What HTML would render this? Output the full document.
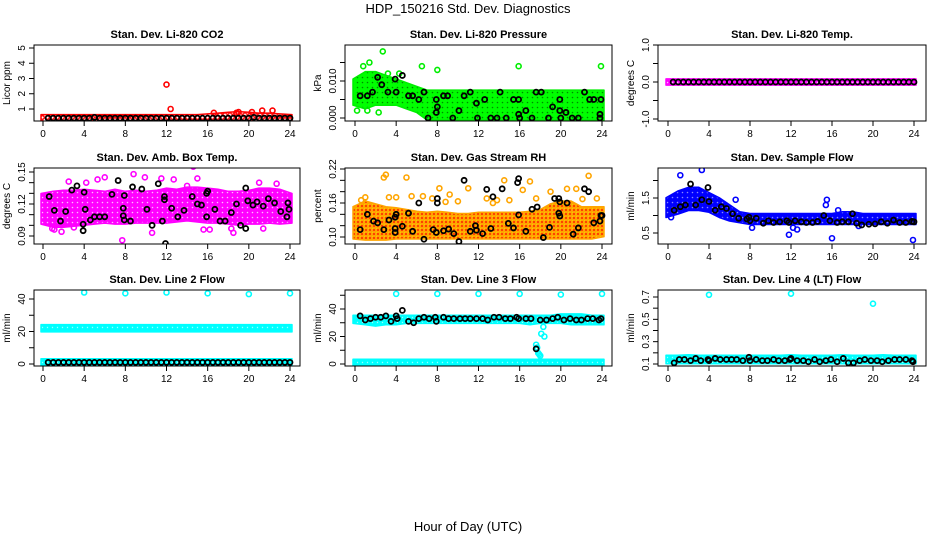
<!DOCTYPE html>
<html><head><meta charset="utf-8"><style>
body{margin:0;background:#fff;}
svg{display:block;font-family:"Liberation Sans",sans-serif;}
</style></head><body>
<svg id="c" width="936" height="540" viewBox="0 0 936 540">
<defs>
<pattern id="p-red" width="5" height="5" patternUnits="userSpaceOnUse"><rect width="5" height="5" fill="#fff"/><circle cx="2.5" cy="2.5" r="1.8" fill="none" stroke="#ff0000" stroke-width="1.4"/></pattern>
<pattern id="p-green" width="5" height="5" patternUnits="userSpaceOnUse"><rect width="5" height="5" fill="#00ff00"/><circle cx="2.5" cy="2.5" r="0.8" fill="#008800"/></pattern>
<pattern id="p-mag" width="5" height="5" patternUnits="userSpaceOnUse"><rect width="5" height="5" fill="#ff00ff"/><circle cx="2.5" cy="2.5" r="0.8" fill="#ffbbff"/></pattern>
<pattern id="p-orange" width="4" height="4" patternUnits="userSpaceOnUse"><rect width="4" height="4" fill="#ffa500"/><circle cx="2" cy="2" r="1" fill="#ff2200"/><circle cx="0" cy="0" r="0.7" fill="#ffff00"/></pattern>
<pattern id="p-blue" width="5" height="5" patternUnits="userSpaceOnUse"><rect width="5" height="5" fill="#0000ff"/><circle cx="2.5" cy="2.5" r="0.8" fill="#8888ff"/></pattern>
<pattern id="p-cyan" width="5" height="5" patternUnits="userSpaceOnUse"><rect width="5" height="5" fill="#00ffff"/><circle cx="2.5" cy="2.5" r="0.7" fill="#99ffff"/></pattern>
</defs>
<text x="468" y="13" text-anchor="middle" font-size="13">HDP_150216  Std. Dev. Diagnostics</text>
<text x="468" y="531" text-anchor="middle" font-size="13">Hour of Day (UTC)</text>
</svg>
<script>
// ---- data (hours) ----
const hours = [0,1,2,3,4,5,6,7,8,9,10,11,12,13,14,15,16,17,18,19,20,21,22,23,24];
// P1 CO2
const co2Low  = [0.3,0.3,0.3,0.3,0.3,0.3,0.3,0.3,0.3,0.3,0.3,0.3,0.3,0.3,0.3,0.3,0.3,0.3,0.3,0.3,0.3,0.3,0.3,0.3,0.3];
const co2High = [0.5,0.5,0.5,0.5,0.5,0.5,0.5,0.5,0.5,0.5,0.5,0.5,0.5,0.5,0.5,0.5,0.55,0.6,0.65,0.7,0.65,0.6,0.6,0.55,0.5];
const co2OutX = [12.0,12.4,12.4,16.6,18.8,19.0,20.3,21.3,22.3];
const co2OutY = [2.6,5.45,1.0,0.75,0.75,0.8,0.8,0.9,0.9];
const co2BlkX = [0.5,1,1.5,2,2.5,3,3.5,4,4.5,5,5.5,6,6.5,7,7.5,8,8.5,9,9.5,10,10.5,11,11.5,12,12.5,13,13.5,14,14.5,15,15.5,16,16.5,17,17.5,18,18.5,19,19.5,20,20.5,21,21.5,22,22.5,23,23.5,24];
const co2BlkY = [0.4,0.4,0.4,0.4,0.4,0.4,0.4,0.4,0.4,0.45,0.4,0.4,0.4,0.4,0.4,0.4,0.4,0.4,0.4,0.4,0.4,0.4,0.4,0.4,0.4,0.4,0.4,0.4,0.4,0.4,0.4,0.4,0.4,0.4,0.4,0.4,0.4,0.4,0.4,0.4,0.45,0.4,0.4,0.4,0.4,0.4,0.4,0.4];
// P2 pressure
const prLow  = [0.004,0.003,0.004,0.004,0.004,0.003,0.002,0,0,0,0,0,0,0,0,0,0,0,0,0,0,0,0,0,0];
const prHigh = [0.010,0.012,0.012,0.011,0.010,0.009,0.008,0.007,0.007,0.007,0.007,0.007,0.007,0.007,0.007,0.007,0.007,0.007,0.007,0.007,0.007,0.007,0.007,0.007,0.007];
const prOutX = [0.2,0.8,1.4,2.7,1.2,2.3,6.5,8.0,15.9,23.9,3.2,4.3];
const prOutY = [0.002,0.014,0.015,0.018,0.002,0.0015,0.014,0.013,0.014,0.014,0.012,0.012];
const prBlkX = [0.5,1.2,1.7,2.2,2.6,3.2,3.9,4.0,4.6,5.2,5.6,6.2,6.7,7.1,7.9,7.9,8.0,8.6,9.0,9.5,10.1,10.6,11.2,11.8,11.9,12.6,13.2,13.8,14.1,14.7,15.4,15.9,15.9,16.0,16.6,17.2,17.6,18.1,18.8,19.2,19.9,19.9,20.0,20.5,21.1,21.7,22.3,22.8,23.2,23.8,23.9,23.8];
const prBlkY = [0.006,0.006,0.007,0.011,0.009,0.007,0.0105,0.007,0.0115,0.006,0.006,0.005,0.007,0,0.005,0.0015,0.003,0.006,0.006,0,0.002,0.006,0.007,0.004,0,0.005,0,0,0.007,0,0.005,0.001,0.005,0,0.002,0,0.007,0.007,0,0.003,0.005,0.002,0,0.0015,0,0,0.007,0.005,0.005,0.001,0.005,0];
// P3 Li-820 temp
const tpLow  = [-0.03,-0.03,-0.03,-0.03,-0.03,-0.03,-0.03,-0.03,-0.03,-0.03,-0.03,-0.03,-0.03,-0.03,-0.03,-0.03,-0.03,-0.03,-0.03,-0.03,-0.03,-0.03,-0.03,-0.03,-0.03];
const tpHigh = [0.03,0.03,0.03,0.03,0.03,0.03,0.03,0.03,0.03,0.03,0.03,0.03,0.03,0.03,0.03,0.03,0.03,0.03,0.03,0.03,0.03,0.03,0.03,0.03,0.03];
const tpBlkX = co2BlkX;
const tpBlkY = [0,0,0,0,0,0,0,0,0,0,0,0,0,0,0,0,0,0,0,0,0,0,0,0,0,0,0,0,0,0,0,0,0,0,0,0,0,0,0,0,0,0,0,0,0,0,0,0];
// P4 amb box temp
const abLow  = [0.103,0.100,0.100,0.101,0.102,0.103,0.104,0.103,0.103,0.104,0.104,0.104,0.104,0.105,0.106,0.105,0.104,0.104,0.103,0.102,0.103,0.103,0.104,0.103,0.104];
const abHigh = [0.128,0.130,0.131,0.131,0.132,0.131,0.130,0.132,0.130,0.131,0.130,0.131,0.133,0.132,0.134,0.134,0.133,0.132,0.130,0.130,0.131,0.133,0.133,0.132,0.128];
const abOutX = [0.9,1.8,2.5,4.2,5.3,6.0,7.7,8.8,9.9,10.6,11.5,12.7,14.6,15.0,15.6,16.2,18.5,21.0,21.4,22.7,1.1,3.0,14.0,18.3];
const abOutY = [0.097,0.094,0.141,0.140,0.143,0.145,0.086,0.148,0.145,0.093,0.144,0.143,0.155,0.144,0.096,0.096,0.093,0.140,0.097,0.139,0.096,0.098,0.137,0.097];
const abBlkX = [0.6,1.1,1.7,2.2,2.8,3.3,3.9,3.9,4.0,4.1,4.6,5.0,5.5,6.0,6.7,7.3,7.8,7.8,7.9,7.9,8.5,8.7,9.6,10.1,10.6,11.2,11.6,11.8,11.8,11.9,12.5,13.1,13.7,14.5,15.0,15.4,15.9,15.9,16.0,16.7,17.2,17.7,18.3,18.8,19.2,19.7,19.7,19.9,20.4,20.8,21.4,21.9,22.5,23.1,23.7,23.8,23.9];
const abBlkY = [0.127,0.114,0.104,0.113,0.133,0.137,0.101,0.095,0.131,0.115,0.105,0.108,0.108,0.108,0.129,0.142,0.109,0.116,0.105,0.128,0.104,0.136,0.134,0.115,0.100,0.139,0.104,0.124,0.127,0.083,0.116,0.108,0.114,0.127,0.120,0.119,0.108,0.130,0.132,0.115,0.104,0.104,0.112,0.120,0.100,0.135,0.097,0.123,0.119,0.122,0.118,0.125,0.121,0.113,0.108,0.121,0.115];
// P5 gas stream RH
const rhLow  = [0.100,0.098,0.098,0.098,0.100,0.100,0.100,0.100,0.100,0.100,0.100,0.100,0.100,0.100,0.100,0.100,0.100,0.100,0.100,0.100,0.100,0.100,0.100,0.100,0.104];
const rhHigh = [0.150,0.160,0.155,0.150,0.148,0.145,0.142,0.140,0.142,0.140,0.138,0.138,0.140,0.140,0.140,0.140,0.140,0.142,0.145,0.155,0.160,0.160,0.150,0.150,0.150];
const rhOutX = [0.6,1.0,2.8,3.0,4.0,5.0,5.5,6.6,7.5,8.2,9.2,10.0,11.0,12.8,13.8,14.5,15.0,16.3,17.0,17.6,19.0,20.6,21.5,22.1,22.7,23.5,3.3,8.8,13.4];
const rhOutY = [0.165,0.170,0.205,0.210,0.170,0.205,0.172,0.172,0.168,0.186,0.175,0.163,0.186,0.168,0.165,0.200,0.165,0.183,0.198,0.168,0.180,0.185,0.185,0.167,0.208,0.168,0.170,0.162,0.160];
const rhBlkX = [0.5,1.2,1.8,2.2,2.8,3.3,3.9,3.9,3.9,4.0,4.6,5.2,5.6,6.2,6.7,7.6,7.9,8.0,8.0,8.6,9.1,9.6,10.1,10.6,11.2,11.7,11.8,12.4,12.8,13.2,13.4,14.3,14.9,15.4,15.8,15.9,15.9,16.6,17.2,17.7,18.3,18.9,19.4,19.8,19.8,19.9,19.9,20.6,21.2,21.7,22.3,22.7,23.2,23.8,23.9,24.0];
const rhBlkY = [0.113,0.140,0.128,0.125,0.113,0.130,0.108,0.115,0.135,0.140,0.119,0.142,0.110,0.160,0.096,0.113,0.108,0.160,0.168,0.111,0.114,0.106,0.092,0.200,0.110,0.120,0.112,0.106,0.184,0.115,0.171,0.185,0.124,0.116,0.196,0.203,0.139,0.110,0.149,0.153,0.099,0.117,0.168,0.168,0.142,0.162,0.137,0.160,0.105,0.116,0.185,0.180,0.125,0.128,0.138,0.138];
// P6 sample flow
const sfLow  = [1.0,1.1,1.2,1.2,1.15,1.0,0.9,0.85,0.8,0.8,0.8,0.8,0.8,0.8,0.8,0.8,0.8,0.8,0.8,0.8,0.8,0.8,0.8,0.8,0.8];
const sfHigh = [1.45,1.65,1.75,1.75,1.6,1.45,1.25,1.05,1.0,1.0,1.0,1.0,1.0,1.0,1.0,1.0,1.0,1.05,1.05,1.0,1.0,1.0,1.0,1.0,1.0];
const sfOutX = [0.3,1.2,3.3,8.2,11.8,12.2,12.6,15.5,15.4,16.0,16.6,23.9,6.6,18.6];
const sfOutY = [0.95,2.15,2.3,0.65,0.45,0.65,0.6,1.45,1.3,0.35,1.15,0.3,1.45,0.7];
const sfBlkX = [0.6,1.2,1.7,2.2,2.7,3.3,3.9,4.0,4.6,5.2,5.7,6.3,6.9,7.7,7.9,8.0,8.6,9.3,9.8,10.3,10.9,11.6,11.8,12.4,13.0,13.5,14.1,14.6,15.2,15.8,16.5,17.0,17.6,18.0,18.4,18.9,19.6,20.2,20.8,21.4,22.0,22.6,23.2,23.8,24.0];
const sfBlkY = [1.15,1.25,1.3,1.9,1.3,1.45,1.8,1.4,1.15,1.25,1.2,1.05,0.92,0.9,0.95,0.85,0.92,0.78,0.85,0.8,0.82,0.85,0.8,0.85,0.82,0.8,0.8,0.83,1.0,0.85,0.8,0.82,0.82,1.05,0.78,0.73,0.75,0.76,0.82,0.78,0.87,0.8,0.8,0.83,0.82];
// P7 line 2 flow
const l2Low  = [21,21,21,21,21,21,21,21,21,21,21,21,21,21,21,21,21,21,21,21,21,21,21,21,21];
const l2High = [23,23,23,23,23,23,23,23,23,23,23,23,23,23,23,23,23,23,23,23,23,23,23,23,23];
const l2Low2  = [0,0,0,0,0,0,0,0,0,0,0,0,0,0,0,0,0,0,0,0,0,0,0,0,0];
const l2High2 = [2,2,2,2,2,2,2,2,2,2,2,2,2,2,2,2,2,2,2,2,2,2,2,2,2];
const l2OutX = [4,8,12,16,20,24];
const l2OutY = [44,43.5,44,43.5,43,43.5];
const l2BlkX = co2BlkX;
const l2BlkY = [1,1,1,1,1,1,1,1,1,1,1,1,1,1,1,1,1,1,1,1,1,1,1,1,1,1,1,1,1,1,1,1,1,1,1,1,1,1,1,1,1,1,1,1,1,1,1,1];
// P8 line 3 flow
const l3Low  = [31,30,29,30,30,31,31,31,31,31,31,31,31,31,31,31,31,30,31,31,31,30,30,30,30];
const l3High = [34,34,34,34,34,34,34,34,34,34,34,34,34,34,34,34,34,34,34,34,35,35,35,34,34];
const l3Low2  = [0,0,0,0,0,0,0,0,0,0,0,0,0,0,0,0,0,0,0,0,0,0,0,0,0];
const l3High2 = [2,2,2,2,2,2,2,2,2,2,2,2,2,2,2,2,2,2,2,2,2,2,2,2,2];
const l3OutX = [4,8,12,16,20,24,17.6,17.7,17.8,17.9,18.0,18.1,18.3,18.4];
const l3OutY = [51,51,51,51,50.5,51,14,12,8,7,6,22,27,20];
const l3BlkX = [0.5,1,1.5,2,2.5,3,3.5,4,4.1,4.6,5.2,5.7,6.2,6.7,7.2,7.8,7.9,8.6,9.1,9.6,10.2,10.7,11.2,11.8,12.4,12.9,13.5,14,14.6,15.1,15.7,15.9,16.6,17.1,17.6,18,18.6,19.2,19.7,20.3,20.9,21.5,22,22.6,23.1,23.7,23.9];
const l3BlkY = [35,32,33,34,34,35,31,35,33,39,31,30,33,34,33,34,31,34,33,33,33,33,33,33,33,32,34,34,33,33,34,33,33,33,11,32,32,33,34,32,33,32,32,33,33,32,33];
// P9 line 4 flow
const l4Low  = [0.12,0.12,0.12,0.12,0.12,0.12,0.12,0.12,0.12,0.12,0.12,0.12,0.12,0.12,0.12,0.12,0.12,0.12,0.12,0.12,0.12,0.12,0.12,0.12,0.12];
const l4High = [0.16,0.16,0.165,0.16,0.16,0.16,0.16,0.16,0.16,0.16,0.16,0.16,0.165,0.16,0.16,0.16,0.16,0.165,0.16,0.16,0.16,0.165,0.16,0.16,0.16];
const l4OutX = [4,12,20];
const l4OutY = [0.72,0.73,0.64];
const l4BlkX = [0.6,1.1,1.6,2.2,2.7,3.2,3.9,4.0,4.6,5.1,5.7,6.2,6.7,7.3,7.9,8.0,8.6,9.2,9.7,10.3,10.8,11.4,11.9,12.0,12.6,13.2,13.7,14.3,14.8,15.4,15.9,16.5,17.1,17.6,18.1,18.7,19.2,19.8,20.4,20.9,21.5,22.1,22.6,23.2,23.8,23.9];
const l4BlkY = [0.11,0.14,0.14,0.13,0.15,0.13,0.14,0.13,0.15,0.14,0.14,0.14,0.14,0.13,0.16,0.13,0.14,0.13,0.13,0.14,0.13,0.13,0.14,0.15,0.13,0.13,0.12,0.14,0.12,0.13,0.14,0.12,0.15,0.11,0.11,0.13,0.14,0.13,0.13,0.12,0.13,0.14,0.14,0.14,0.13,0.12];

// ---- layout ----
const NS = "http://www.w3.org/2000/svg";
const svg = document.getElementById('c');
function el(tag, attrs, parent){ const e=document.createElementNS(NS,tag); for(const k in attrs) e.setAttribute(k,attrs[k]); (parent||svg).appendChild(e); return e; }

const panels = [
 {id:'co2',title:'Stan. Dev. Li-820 CO2',yt:'Licor ppm',box:[34,45,300,121],x0:43,x24:290,ya:[1,109],yb:[5,48],ticks:[1,2,3,4,5],labs:['1','2','3','4','5'],col:'#ff0000',pat:'p-red',bands:[[co2Low,co2High]],ox:co2OutX,oy:co2OutY,bx:co2BlkX,by:co2BlkY},
 {id:'pressure',title:'Stan. Dev. Li-820 Pressure',yt:'kPa',box:[345,45,612,121],x0:355,x24:602,ya:[0,118],yb:[0.01,81],ticks:[0,0.005,0.01,0.015],labs:['0.000','','0.010',''],col:'#00ee00',pat:'p-green',bands:[[prLow,prHigh]],ox:prOutX,oy:prOutY,bx:prBlkX,by:prBlkY},
 {id:'licor-temp',title:'Stan. Dev. Li-820 Temp.',yt:'degrees C',box:[658,45,926,121],x0:668,x24:914,ya:[-1,119],yb:[1,45],ticks:[-1,-0.5,0,0.5,1],labs:['-1.0','','0.0','','1.0'],col:'#ff00ff',pat:'p-mag',bands:[[tpLow,tpHigh]],ox:[],oy:[],bx:tpBlkX,by:tpBlkY},
 {id:'amb-temp',title:'Stan. Dev. Amb. Box Temp.',yt:'degrees C',box:[34,168,300,244],x0:43,x24:290,ya:[0.09,236],yb:[0.15,172],ticks:[0.09,0.10,0.11,0.12,0.13,0.14,0.15],labs:['0.09','','','0.12','','','0.15'],col:'#ff00ff',pat:'p-mag',bands:[[abLow,abHigh]],ox:abOutX,oy:abOutY,bx:abBlkX,by:abBlkY},
 {id:'rh',title:'Stan. Dev. Gas Stream RH',yt:'percent',box:[345,168,612,244],x0:355,x24:602,ya:[0.10,237],yb:[0.22,169],ticks:[0.10,0.12,0.14,0.16,0.18,0.20,0.22],labs:['0.10','','','0.16','','','0.22'],col:'#ffa500',pat:'p-orange',bands:[[rhLow,rhHigh]],ox:rhOutX,oy:rhOutY,bx:rhBlkX,by:rhBlkY},
 {id:'sample-flow',title:'Stan. Dev. Sample Flow',yt:'ml/min',box:[658,168,926,244],x0:668,x24:914,ya:[0.5,233],yb:[1.5,198],ticks:[0.5,1.0,1.5,2.0],labs:['0.5','','1.5',''],col:'#0000ff',pat:'p-blue',bands:[[sfLow,sfHigh]],ox:sfOutX,oy:sfOutY,bx:sfBlkX,by:sfBlkY},
 {id:'line2',title:'Stan. Dev. Line 2 Flow',yt:'ml/min',box:[34,290,300,366],x0:43,x24:290,ya:[0,364],yb:[40,299],ticks:[0,10,20,30,40],labs:['0','','20','','40'],col:'#00ffff',pat:'p-cyan',bands:[[l2Low,l2High],[l2Low2,l2High2]],ox:l2OutX,oy:l2OutY,bx:l2BlkX,by:l2BlkY},
 {id:'line3',title:'Stan. Dev. Line 3 Flow',yt:'ml/min',box:[345,290,612,366],x0:355,x24:602,ya:[0,364],yb:[40,309],ticks:[0,10,20,30,40,50],labs:['0','','20','','40',''],col:'#00ffff',pat:'p-cyan',bands:[[l3Low,l3High],[l3Low2,l3High2]],ox:l3OutX,oy:l3OutY,bx:l3BlkX,by:l3BlkY},
 {id:'line4',title:'Stan. Dev. Line 4 (LT) Flow',yt:'ml/min',box:[658,290,926,366],x0:668,x24:914,ya:[0.1,364],yb:[0.7,297],ticks:[0.1,0.2,0.3,0.4,0.5,0.6,0.7],labs:['0.1','','0.3','','0.5','','0.7'],col:'#00ffff',pat:'p-cyan',bands:[[l4Low,l4High]],ox:l4OutX,oy:l4OutY,bx:l4BlkX,by:l4BlkY}
];
const xTicks = [0,4,8,12,16,20,24];

panels.forEach(p=>{
  const g = el('g',{});
  
  
  const [L,T,R,B] = p.box;
  const X = h => p.x0 + h*(p.x24-p.x0)/24;
  const Y = v => p.ya[1] + (v-p.ya[0])*(p.yb[1]-p.ya[1])/(p.yb[0]-p.ya[0]);
  const clipId='clip-'+p.id;
  const cp = el('clipPath',{id:clipId},g); el('rect',{x:L,y:T,width:R-L,height:B-T},cp);
  const plot = el('g',{'clip-path':'url(#'+clipId+')'},g);
  p.bands.forEach(bd=>{
    const lo=bd[0], hi=bd[1];
    const n=hours.length;
    let d='M'+(X(hours[0])-2).toFixed(1)+','+(Y(lo[0])+2).toFixed(1);
    hours.forEach((h,i)=>{ d+='L'+(X(h)+(i==0?-2:(i==n-1?2:0))).toFixed(1)+','+(Y(hi[i])-2).toFixed(1); });
    for(let i=n-1;i>=0;i--) d+='L'+(X(hours[i])+(i==0?-2:(i==n-1?2:0))).toFixed(1)+','+(Y(lo[i])+2).toFixed(1);
    const pa = el('path',{d:d+'Z',fill:'url(#'+p.pat+')',stroke:p.col,'stroke-width':1.5,'stroke-linejoin':'round'},plot);
    
    
  });
  p.ox.forEach((h,i)=>{
    const c = el('circle',{cx:X(h),cy:Y(p.oy[i]),r:2.5,fill:'none',stroke:p.col,'stroke-width':1.6},plot);
    
    
  });
  p.bx.forEach((h,i)=>{
    const c = el('circle',{cx:X(h),cy:Y(p.by[i]),r:2.5,fill:'none',stroke:'#000','stroke-width':1.8},plot);
    
    
  });
  const bx = el('rect',{x:L,y:T,width:R-L,height:B-T,fill:'none',stroke:'#000','stroke-width':1},g);
  
  
  xTicks.forEach(t=>{
    el('line',{x1:X(t),x2:X(t),y1:B,y2:B+5,stroke:'#000'},g);
    const tx = el('text',{x:X(t),y:B+16,'text-anchor':'middle','font-size':10},g);
    tx.textContent = t;
    
    
  });
  p.ticks.forEach((t,i)=>{
    const y=Y(t);
    el('line',{x1:L-5,x2:L,y1:y,y2:y,stroke:'#000'},g);
    if(p.labs[i]){
      const tx = el('text',{x:L-9,y:y,'text-anchor':'middle','font-size':10,transform:'rotate(-90 '+(L-9)+' '+y+')'},g);
      tx.textContent = p.labs[i];
      
      
    }
  });
  const yt = el('text',{x:L-24,y:(T+B)/2,'text-anchor':'middle','font-size':10,transform:'rotate(-90 '+(L-24)+' '+((T+B)/2)+')'},g);
  yt.textContent = p.yt;
  
  
  const ti = el('text',{x:(L+R)/2,y:T-7,'text-anchor':'middle','font-size':11,'font-weight':'bold'},g);
  ti.textContent = p.title;
  
  
});
</script>
</body></html>
